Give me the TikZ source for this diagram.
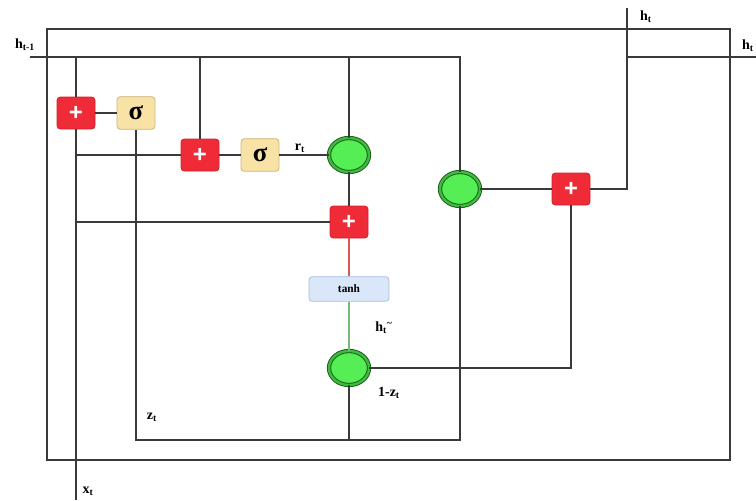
\documentclass[tikz,border=0pt]{standalone}
\usepackage{fontspec}
\setmainfont{Liberation Serif}
\newfontfamily\plusfont{Liberation Sans}
\usetikzlibrary{shapes.geometric}
\definecolor{linec}{HTML}{3A3A3A}
\definecolor{plusfill}{HTML}{EE2B36}
\definecolor{plusdraw}{HTML}{D02530}
\definecolor{sigfill}{HTML}{F8E2A6}
\definecolor{sigdraw}{HTML}{CDB677}
\definecolor{gfill}{HTML}{55EE55}
\definecolor{gring}{HTML}{3DBB3D}
\definecolor{gdraw}{HTML}{1D5A1D}
\definecolor{tfill}{HTML}{DAE7F8}
\definecolor{tdraw}{HTML}{A9BEE2}
\definecolor{redline}{HTML}{D85858}
\definecolor{greenline}{HTML}{78B878}
\begin{document}
\begin{tikzpicture}[x=0.75pt,y=-0.75pt,
  wire/.style={draw=linec,line width=1pt},
  plusbox/.style={rectangle,rounded corners=2.5pt,fill=plusfill,draw=plusdraw,line width=0.6pt,
    minimum width=28.5pt,minimum height=24pt,inner sep=0pt,text=white,
    font=\plusfont\bfseries\fontsize{18}{18}\selectfont},
  sigbox/.style={rectangle,rounded corners=2.5pt,fill=sigfill,draw=sigdraw,line width=0.6pt,
    minimum width=28.5pt,minimum height=24.5pt,inner sep=0pt,
    font=\bfseries\fontsize{20}{20}\selectfont},
  gatec/.style={ellipse,minimum width=30pt,minimum height=25.5pt,inner sep=0pt,fill=gfill,
    draw=gdraw,double=gring,double distance=1.8pt,line width=0.7pt},
  tanhbox/.style={rectangle,rounded corners=2.5pt,fill=tfill,draw=tdraw,line width=0.6pt,
    minimum width=60pt,minimum height=18.5pt,inner sep=0pt,font=\bfseries\fontsize{8.5}{8.5}\selectfont},
  lbl/.style={inner sep=0pt,font=\bfseries\fontsize{10.5}{11}\selectfont}
]
\useasboundingbox (0,0) rectangle (756,500);
% outer frame
\draw[wire] (47,29) rectangle (730,460);

% nodes
\node[plusbox] (p1) at (76,113) {+};
\node[sigbox] (s1) at (136,113) {σ};
\node[plusbox] (p2) at (200,155) {+};
\node[sigbox] (s2) at (260,155) {σ};
\node[gatec] (c1) at (349,155) {};
\node[plusbox] (p3) at (349,222) {+};
\node[tanhbox] (th) at (349,289) {tanh};
\node[gatec] (c2) at (349,368) {};
\node[gatec] (c3) at (460,189) {};
\node[plusbox] (p4) at (571,189) {+};

% coordinates
\coordinate (hin) at (30,57);
\coordinate (hcorner) at (460,57);
\coordinate (xbot) at (76,500);
\coordinate (xtop) at (76,57);
\coordinate (j1) at (76,155);
\coordinate (j2) at (76,222);
\coordinate (t2) at (200,57);
\coordinate (t3) at (349,57);
\coordinate (zb) at (136,440);
\coordinate (zr) at (460,440);
\coordinate (cb) at (349,440);
\coordinate (c2r) at (571,368);
\coordinate (ho) at (627,189);
\coordinate (htop) at (627,8);
\coordinate (hj) at (627,57);
\coordinate (hright) at (756,57);

% wires
\draw[wire] (hin) -- (hcorner) -- (c3.north);
\draw[wire] (xbot) -- (p1.south);
\draw[wire] (p1.north) -- (xtop);
\draw[wire] (p1) -- (s1);
\draw[wire] (s1.south) -- (zb) -- (zr) -- (c3.south);
\draw[wire] (j1) -- (p2.west);
\draw[wire] (t2) -- (p2.north);
\draw[wire] (p2) -- (s2);
\draw[wire] (s2) -- (c1);
\draw[wire] (t3) -- (c1.north);
\draw[wire] (c1) -- (p3);
\draw[wire] (j2) -- (p3.west);
\draw[draw=redline,line width=0.8pt] (p3) -- (th);
\draw[draw=greenline,line width=0.8pt] (th) -- (c2);
\draw[wire] (c2.south) -- (cb);
\draw[wire] (c2.east) -- (c2r) -- (p4.south);
\draw[wire] (c3) -- (p4);
\draw[wire] (p4.east) -- (ho) -- (htop);
\draw[wire] (hj) -- (hright);

% labels
\node[lbl] (lh1) at (25,45) {h\textsubscript{t-1}};
\node[lbl] (lht) at (646,17) {h\textsubscript{t}};
\node[lbl] (lhr) at (748,46) {h\textsubscript{t}};
\node[lbl] (lrt) at (300,148) {r\textsubscript{t}};
\node[lbl] (lhtil) at (384,328) {h\textsubscript{t}\textsuperscript{\textasciitilde}};
\node[lbl] (l1z) at (389,393) {1-z\textsubscript{t}};
\node[lbl] (lz) at (152,417) {z\textsubscript{t}};
\node[lbl] (lx) at (88,491) {x\textsubscript{t}};
\end{tikzpicture}
\end{document}
